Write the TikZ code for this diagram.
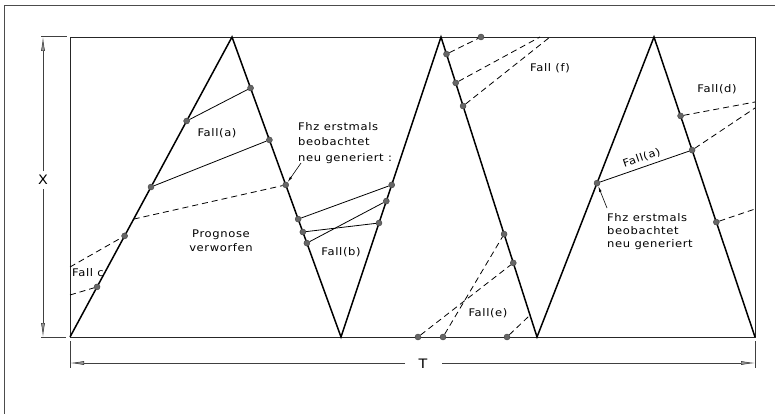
\documentclass[tikz,border=0pt]{standalone}
\usepackage{fontspec}
\setmainfont{DejaVu Sans}[FakeStretch=1.1,LetterSpace=6]
\usetikzlibrary{calc,arrows.meta}
\begin{document}
\begin{tikzpicture}[x=1pt,y=-1pt,
  outer/.style={line width=0.8pt, black!70},
  frame/.style={line width=0.9pt, black!85},
  zig/.style={line width=1.5pt, line join=miter},
  solidlink/.style={line width=0.8pt},
  dashlink/.style={line width=0.8pt, dash pattern=on 6pt off 4pt},
  dot/.style={circle, inner sep=0pt, minimum size=6pt, fill=black!60, draw=black!75, line width=0.4pt},
  lbl/.style={font=\fontsize{10.5}{13}\selectfont, inner sep=0pt},
  dimlbl/.style={font=\fontsize{13}{15}\selectfont, inner sep=0pt},
  dim/.style={line width=0.6pt, black!75},
  dimarrow/.style={-{Latex[length=14pt,width=4pt,fill=black!40]}},
  pointer/.style={line width=0.6pt, -{Latex[length=6pt,width=2.5pt]}},
]
\useasboundingbox (0,0) rectangle (775,414);
% outer sheet border
\coordinate (o1) at (4,414);
\coordinate (o2) at (4,5);
\coordinate (o3) at (775,5);
\draw[outer] (o1) -- (o2) -- (o3);

% main frame
\coordinate (TL) at (70,37);
\coordinate (TR) at (755,37);
\coordinate (BR) at (755,337);
\coordinate (BL) at (70,337);
\draw[frame] (TL) -- (TR) -- (BR) -- (BL) -- cycle;

% zigzag
\coordinate (z0) at (70,337);
\coordinate (z1) at (232,37);
\coordinate (z2) at (341,337);
\coordinate (z3) at (441,37);
\coordinate (z4) at (537,337);
\coordinate (z5) at (654,37);
\coordinate (z6) at (755,337);
\draw[zig] (z0) -- (z1) -- (z2) -- (z3) -- (z4) -- (z5) -- (z6);

% points on the zigzag
\node[dot] (p1) at ($(z0)!0.72!(z1)$) {};
\node[dot] (p2) at ($(z0)!0.5!(z1)$) {};
\node[dot] (p3) at ($(z0)!0.337!(z1)$) {};
\node[dot] (p4) at ($(z0)!0.167!(z1)$) {};
\coordinate (c1) at ($(z0)!0.393!(z1)$);

\node[dot] (q1) at ($(z1)!0.17!(z2)$) {};
\node[dot] (q2) at ($(z1)!0.343!(z2)$) {};
\node[dot] (q3) at ($(z1)!0.493!(z2)$) {};
\node[dot] (q4) at ($(z1)!0.607!(z2)$) {};
\node[dot] (q5) at ($(z1)!0.65!(z2)$) {};
\node[dot] (q6) at ($(z1)!0.687!(z2)$) {};

\node[dot] (r1) at ($(z2)!0.507!(z3)$) {};
\node[dot] (r2) at ($(z2)!0.453!(z3)$) {};
\node[dot] (r3) at ($(z2)!0.38!(z3)$) {};

\node[dot] (s1) at ($(z3)!0.057!(z4)$) {};
\node[dot] (s2) at ($(z3)!0.153!(z4)$) {};
\node[dot] (s3) at ($(z3)!0.23!(z4)$) {};
\node[dot] (s4) at ($(z3)!0.657!(z4)$) {};
\node[dot] (s5) at ($(z3)!0.753!(z4)$) {};
\coordinate (s6) at ($(z3)!0.927!(z4)$);

\node[dot] (u1) at ($(z4)!0.513!(z5)$) {};
\node[dot] (v1) at ($(z5)!0.263!(z6)$) {};
\node[dot] (v2) at ($(z5)!0.377!(z6)$) {};
\node[dot] (v3) at ($(z5)!0.617!(z6)$) {};

% points on the frame
\node[dot] (e1) at (481,37) {};
\node[dot] (b1) at (418,337) {};
\node[dot] (b2) at (443,337) {};
\node[dot] (b3) at (507,337) {};
\coordinate (l1) at (70,267);
\coordinate (l2) at (70,295);
\coordinate (t1) at (540,37);
\coordinate (t2) at (550,37);
\coordinate (rr1) at (755,102);
\coordinate (rr2) at (755,108);
\coordinate (rr3) at (755,209);

% solid links
\draw[solidlink] (p1) -- (q1);
\draw[solidlink] (p2) -- (q2);
\draw[solidlink] (q4) -- (r1);
\draw[solidlink] (q5) -- (r3);
\draw[solidlink] (q6) -- (r2);
\draw[solidlink] (u1) -- node[lbl, midway, sloped, above=4pt] {Fall(a)} (v2);

% dashed links
\draw[dashlink] (c1) -- (q3);
\draw[dashlink] (l1) -- (p3);
\draw[dashlink] (l2) -- (p4);
\draw[dashlink] (s1) -- (e1);
\draw[dashlink] (s2) -- (t1);
\draw[dashlink] (s3) -- (t2);
\draw[dashlink] (b1) -- (s5);
\draw[dashlink] (b2) -- (s4);
\draw[dashlink] (b3) -- (s6);
\draw[dashlink] (v1) -- (rr1);
\draw[dashlink] (v2) -- (rr2);
\draw[dashlink] (v3) -- (rr3);

% labels
\node[lbl] (la) at (217,133) {Fall(a)};
\node[lbl, anchor=west] (lc) at (72,273) {Fall c};
\node[lbl, align=center, font=\fontsize{10.5}{14}\selectfont] (lp) at (221,241) {Prognose\\verworfen};
\node[lbl] (lb) at (341,252) {Fall(b)};
\node[lbl] (le) at (488,313) {Fall(e)};
\node[lbl] (lf) at (550,68) {Fall (f)};
\node[lbl] (ld) at (717,89) {Fall(d)};

% annotations with pointers
\node[lbl, align=left, anchor=north west, font=\fontsize{10.5}{15.5}\selectfont] (n1) at (298,122) {Fhz erstmals\\beobachtet\\neu generiert :};
\coordinate (a1) at (301,163);
\draw[pointer] (a1) -- (q3);
\node[lbl, align=left, anchor=north west, font=\fontsize{10.5}{13}\selectfont] (n2) at (607,213) {Fhz erstmals\\beobachtet\\neu generiert};
\coordinate (a2) at (607,208);
\draw[pointer] (a2) -- (u1);

% dimension X
\coordinate (xe1a) at (41,36);
\coordinate (xe1b) at (67,36);
\coordinate (xe2a) at (41,337);
\coordinate (xe2b) at (66,337);
\draw[dim] (xe1a) -- (xe1b);
\draw[dim] (xe2a) -- (xe2b);
\node[dimlbl] (X) at (43,180) {X};
\coordinate (xt) at (43,37);
\coordinate (xb) at (43,337);
\coordinate (xm1) at (43,171);
\coordinate (xm2) at (43,189);
\draw[dim, dimarrow] (xm1) -- (xt);
\draw[dim, dimarrow] (xm2) -- (xb);

% dimension T
\coordinate (te1a) at (70,341);
\coordinate (te1b) at (70,368);
\coordinate (te2a) at (755,341);
\coordinate (te2b) at (755,368);
\draw[dim] (te1a) -- (te1b);
\draw[dim] (te2a) -- (te2b);
\node[dimlbl] (T) at (423,364) {T};
\coordinate (tl) at (70,363);
\coordinate (tr) at (755,363);
\coordinate (tm1) at (405,363);
\coordinate (tm2) at (442,363);
\draw[dim, dimarrow] (tm1) -- (tl);
\draw[dim, dimarrow] (tm2) -- (tr);
\end{tikzpicture}
\end{document}
